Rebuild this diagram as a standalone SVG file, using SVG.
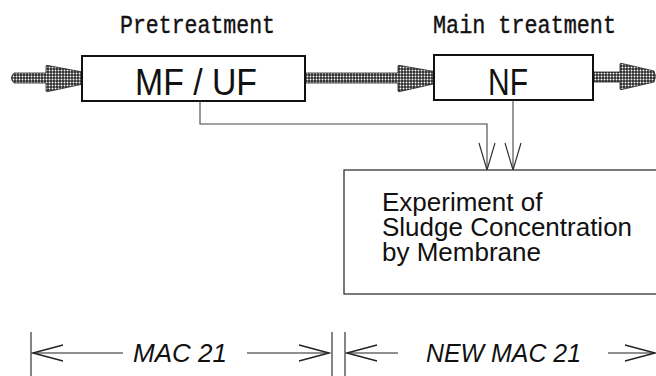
<svg xmlns="http://www.w3.org/2000/svg" width="656" height="376" viewBox="0 0 656 376">
<defs>
  <pattern id="dots" width="3" height="3" patternUnits="userSpaceOnUse">
    <rect width="3" height="3" fill="#2a2a2a"/>
    <circle cx="1.5" cy="1.5" r="0.95" fill="#ffffff"/>
  </pattern>
  <marker id="v" viewBox="-30 -10 32 20" refX="0" refY="0" markerWidth="32" markerHeight="20" markerUnits="userSpaceOnUse" orient="auto">
    <path d="M-27,-8 L0,0 L-27,8" fill="none" stroke="#333" stroke-width="1.2"/>
  </marker>
  <marker id="vd" viewBox="-34 -10 36 20" refX="0" refY="0" markerWidth="36" markerHeight="20" markerUnits="userSpaceOnUse" orient="auto-start-reverse">
    <path d="M-30,-8 L0,0 L-30,8" fill="none" stroke="#222" stroke-width="1.3"/>
  </marker>
  <style>
    .box { fill: #fff; stroke: #111; stroke-width: 2; }
    .ebox { fill: #fff; stroke: #333; stroke-width: 1.3; }
    .flow { fill: url(#dots); stroke: #222; stroke-width: 0.8; }
    .conn { fill: none; stroke: #444; stroke-width: 1.1; }
    .dim { fill: none; stroke: #222; stroke-width: 1.2; }
    .tick { fill: none; stroke: #333; stroke-width: 1.2; }
    .mono { font-family: "Liberation Mono", "DejaVu Sans Mono", monospace; font-size: 26px; fill: #111; stroke: #111; stroke-width: 0.4; }
    .sans { font-family: "Liberation Sans", Arial, sans-serif; fill: #111; }
    .it { font-family: "Liberation Sans", Arial, sans-serif; font-style: italic; font-size: 26px; fill: #111; }
  </style>
</defs>

<rect width="656" height="376" fill="#fff"/>

<g id="labels">
  <text class="mono" x="120" y="33" textLength="155" lengthAdjust="spacingAndGlyphs">Pretreatment</text>
  <text class="mono" x="433" y="33" textLength="183" lengthAdjust="spacingAndGlyphs">Main treatment</text>
</g>

<g id="flows">
  <path class="flow" d="M14,73 L46,73 L46,66 Q46,65 48,65.5 L88,73 Q91,78 88,83 L48,91.5 Q46,92 46,91 L46,83 L14,83 Q9,78 14,73 Z"/>
  <path class="flow" d="M300,73 L398,73 L398,66 Q398,65 400,65.5 L440,72.5 Q443,77.5 440,82.5 L400,91.5 Q398,92 398,91 L398,83 L300,83 Z"/>
  <path class="flow" d="M588,72 L620,72 L620,64 Q620,63 622,63.5 L654,71 Q657,76.5 654,82 L622,89.5 Q620,90 620,89 L620,82 L588,82 Z"/>
</g>

<g id="mfuf">
  <rect class="box" x="82" y="56" width="223" height="45"/>
  <text class="sans" x="135" y="95" font-size="37" textLength="122" lengthAdjust="spacingAndGlyphs">MF / UF</text>
</g>

<g id="nf">
  <rect class="box" x="434" y="55" width="159" height="45"/>
  <text class="sans" x="488" y="95" font-size="37" textLength="40" lengthAdjust="spacingAndGlyphs">NF</text>
</g>

<g id="connectors">
  <path class="conn" d="M200,101 L200,124 L487,124 L487,170" marker-end="url(#v)"/>
  <path class="conn" d="M513,100 L513,170" marker-end="url(#v)"/>
</g>

<g id="experiment">
  <rect class="ebox" x="344" y="170" width="330" height="124"/>
  <text class="sans" font-size="26">
    <tspan x="382" y="211">Experiment of</tspan>
    <tspan x="382" y="236">Sludge Concentration</tspan>
    <tspan x="382" y="261">by Membrane</tspan>
  </text>
</g>

<g id="dimensions">
  <line class="tick" x1="31" y1="332" x2="31" y2="376"/>
  <line class="tick" x1="332" y1="332" x2="332" y2="376"/>
  <line class="tick" x1="345" y1="332" x2="345" y2="376"/>
  <path class="dim" d="M123,353 L33,353" marker-end="url(#vd)"/>
  <path class="dim" d="M247,353 L329,353" marker-end="url(#vd)"/>
  <path class="dim" d="M398,353 L347,353" marker-end="url(#vd)"/>
  <path class="dim" d="M608,353 L655,353" marker-end="url(#vd)"/>
  <text class="it" x="133" y="362" textLength="94" lengthAdjust="spacingAndGlyphs">MAC 21</text>
  <text class="it" x="426" y="362" textLength="155" lengthAdjust="spacingAndGlyphs">NEW MAC 21</text>
</g>
</svg>
